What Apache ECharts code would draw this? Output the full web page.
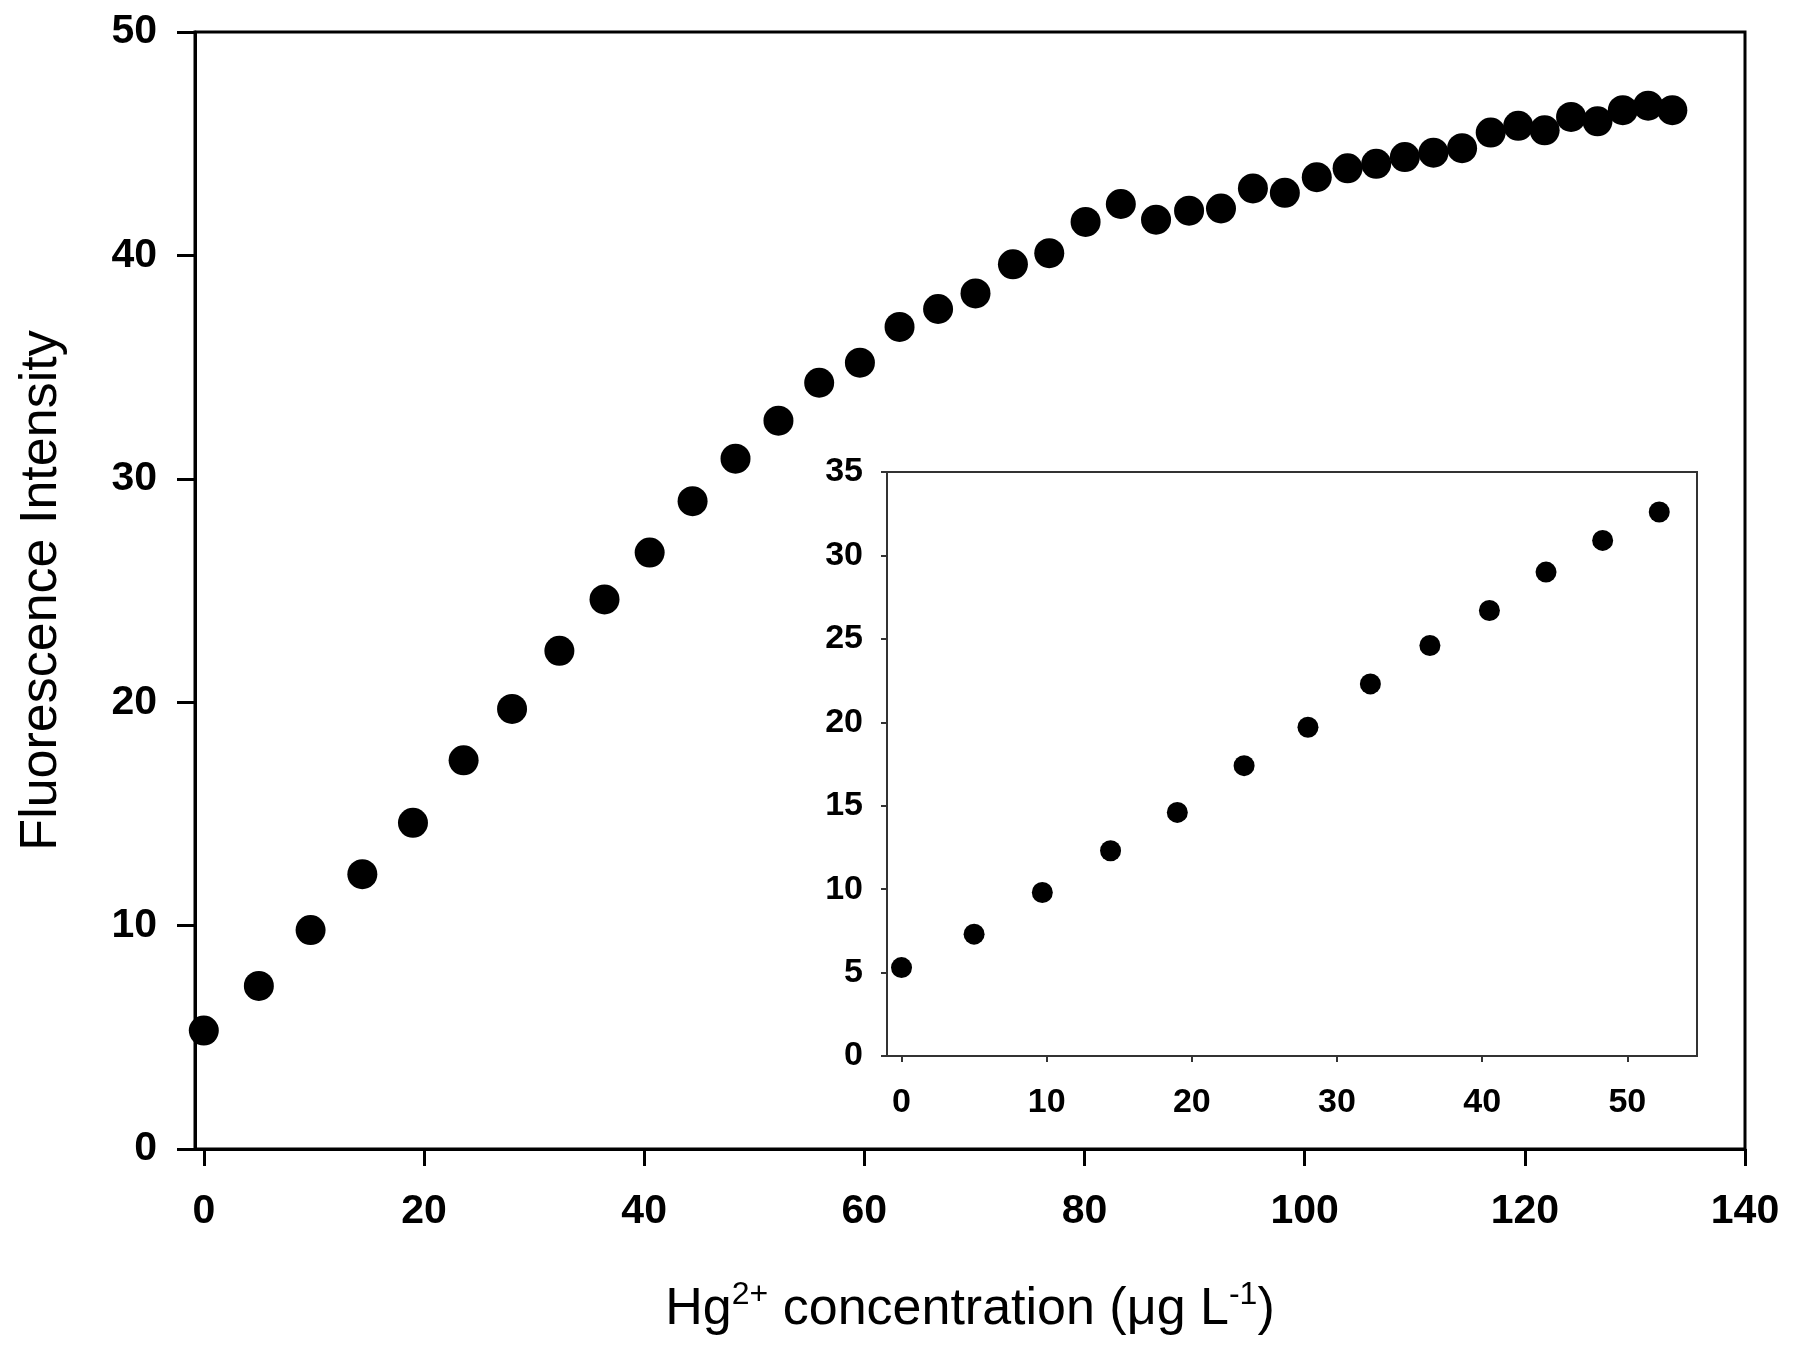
<!DOCTYPE html>
<html>
<head>
<meta charset="utf-8">
<script src="https://cdn.jsdelivr.net/npm/echarts@6/dist/echarts.min.js"></script>
<style>
  html, body { margin: 0; padding: 0; background: #fff; }
  #mainChart { width: 1797px; height: 1357px; }
</style>
</head>
<body>
<div id="mainChart"></div>
<script>
// Hg2+ concentration (ug/L) and fluorescence intensity
var concX = [0, 5.0, 9.7, 14.4, 19.0, 23.6, 28.0, 32.3, 36.4, 40.5, 44.4, 48.3, 52.2,
    55.9, 59.6, 63.2, 66.7, 70.1, 73.5, 76.8, 80.1, 83.3, 86.5, 89.5, 92.4, 95.3,
    98.2, 101.1, 103.9, 106.5, 109.1, 111.7, 114.3, 116.9, 119.4, 121.8, 124.2,
    126.6, 128.9, 131.2, 133.4];
var intensity = [5.3, 7.3, 9.8, 12.3, 14.6, 17.4, 19.7, 22.3, 24.6, 26.7, 29.0, 30.9, 32.6,
    34.3, 35.2, 36.8, 37.6, 38.3, 39.6, 40.1, 41.5, 42.3, 41.6, 42.0, 42.1, 43.0,
    42.8, 43.5, 43.9, 44.1, 44.4, 44.6, 44.8, 45.5, 45.8, 45.6, 46.2,
    46.0, 46.5, 46.7, 46.5];
// inset shows the linear part (first 13 points)
var insetCount = 13;

var mainTicksX = [0, 20, 40, 60, 80, 100, 120, 140];
var insetTicksX = [0, 10, 20, 30, 40, 50];

var font = "'Liberation Sans', Arial, sans-serif";

function pairs(xs, ys, n) {
    var out = [];
    for (var i = 0; i < n; i++) {
        out.push([xs[i], ys[i]]);
    }
    return out;
}

var chart = echarts.init(document.getElementById('mainChart'));

chart.setOption({
    animation: false,
    backgroundColor: '#fff',
    grid: [
        {
            left: 195, top: 32, right: 52, bottom: 208,
            show: true, borderColor: '#000', borderWidth: 3
        },
        {
            left: 887, top: 472, right: 100, bottom: 301,
            show: true, borderColor: '#333', borderWidth: 2, backgroundColor: '#fff', z: 5
        }
    ],
    xAxis: [
        {
            type: 'value', gridIndex: 0, min: -0.8, max: 140,
            splitLine: { show: false },
            axisLine: { onZero: false, lineStyle: { color: '#000', width: 3 } },
            axisTick: { customValues: mainTicksX, length: 17, lineStyle: { color: '#000', width: 3 } },
            axisLabel: {
                customValues: mainTicksX, margin: 42, color: '#000',
                fontFamily: font, fontSize: 41, fontWeight: 'bold'
            },
            name: 'Hg{sup|2+} concentration (μg L{sup|-1})',
            nameLocation: 'middle', nameGap: 130,
            nameTextStyle: {
                color: '#000', fontFamily: font, fontSize: 52, lineHeight: 62,
                rich: {
                    sup: { fontFamily: font, fontSize: 32, verticalAlign: 'top', lineHeight: 62, color: '#000' }
                }
            }
        },
        {
            type: 'value', gridIndex: 1, min: -1, max: 54.8,
            splitLine: { show: false },
            axisLine: { onZero: false, lineStyle: { color: '#333', width: 2 } },
            axisTick: { customValues: insetTicksX, length: 6, lineStyle: { color: '#333', width: 2 } },
            axisLabel: {
                customValues: insetTicksX, margin: 30, color: '#000',
                fontFamily: font, fontSize: 34, fontWeight: 'bold'
            }
        }
    ],
    yAxis: [
        {
            type: 'value', gridIndex: 0, min: 0, max: 50, interval: 10,
            splitLine: { show: false },
            axisLine: { onZero: false, lineStyle: { color: '#000', width: 3 } },
            axisTick: { length: 18, lineStyle: { color: '#000', width: 3 } },
            axisLabel: { margin: 38, color: '#000', fontFamily: font, fontSize: 41, fontWeight: 'bold' },
            name: 'Fluorescence Intensity',
            nameLocation: 'middle', nameGap: 127,
            nameTextStyle: { color: '#000', fontFamily: font, fontSize: 52 }
        },
        {
            type: 'value', gridIndex: 1, min: 0, max: 35, interval: 5,
            splitLine: { show: false },
            axisLine: { onZero: false, lineStyle: { color: '#333', width: 2 } },
            axisTick: { length: 6, lineStyle: { color: '#333', width: 2 } },
            axisLabel: { margin: 24, color: '#000', fontFamily: font, fontSize: 34, fontWeight: 'bold' }
        }
    ],
    series: [
        {
            type: 'scatter', xAxisIndex: 0, yAxisIndex: 0,
            symbol: 'circle', symbolSize: 30,
            itemStyle: { color: '#000', opacity: 1 },
            data: pairs(concX, intensity, concX.length)
        },
        {
            type: 'scatter', xAxisIndex: 1, yAxisIndex: 1, z: 6,
            symbol: 'circle', symbolSize: 21,
            itemStyle: { color: '#000', opacity: 1 },
            data: pairs(concX, intensity, insetCount)
        }
    ]
});
</script>
</body>
</html>
